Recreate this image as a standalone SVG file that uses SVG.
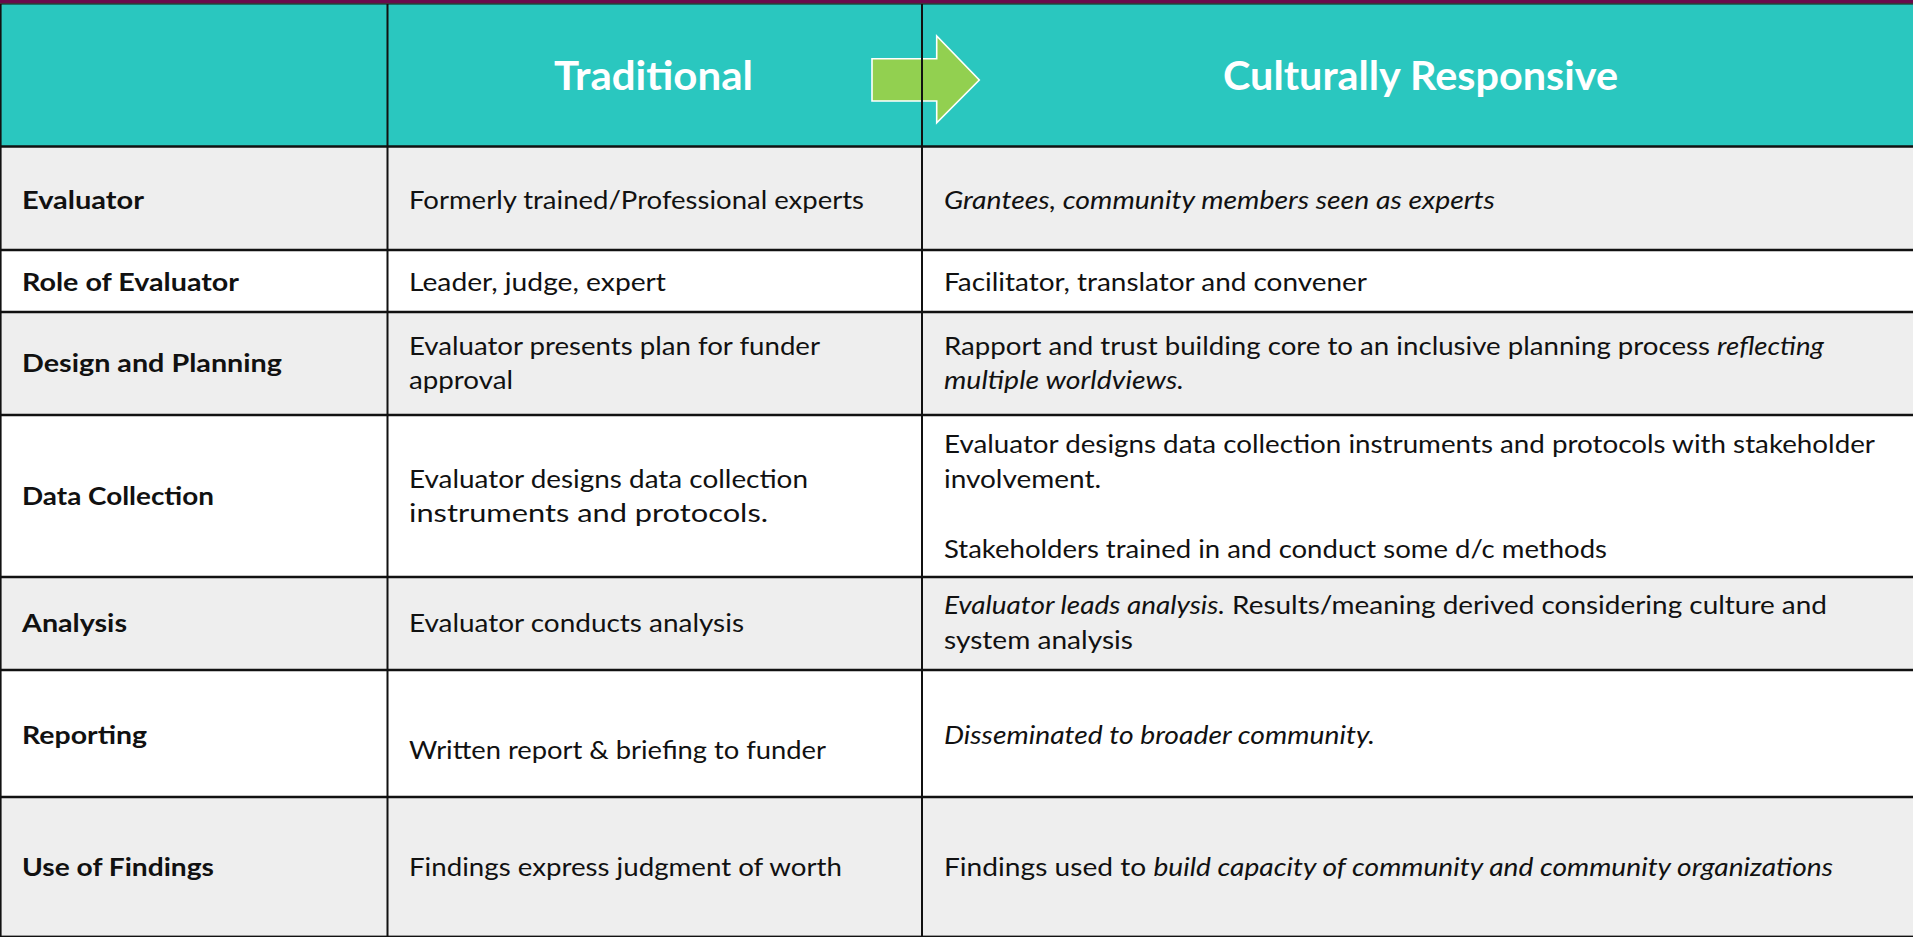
<svg xmlns="http://www.w3.org/2000/svg" width="1913" height="937" viewBox="0 0 1913 937">
<style>
.t{font-family:Lato,"Liberation Sans",sans-serif;font-size:25px;fill:#111}
.b{font-weight:bold}
.i{font-style:italic}
.h{font-family:Lato,"Liberation Sans",sans-serif;font-size:40px;font-weight:bold;fill:#fff}
.hl{stroke:#111;stroke-width:2.6}
.vl{stroke:#111;stroke-width:2}
.gray{fill:#EEEEEE}
.white{fill:#FFFFFF}
</style>
<defs/>
<g id="background">
<rect x="0" y="0" width="1913" height="937" fill="#FFFFFF"/>
<rect x="0" y="4" width="1913" height="142" fill="#2AC7BF"/>
<rect x="0" y="0" width="1913" height="3.2" fill="#6A0A4C"/>
<rect x="0" y="3.2" width="1913" height="1.3" fill="#111"/>
</g>
<g id="rows">
<rect class="gray" x="0" y="146" width="1913" height="104"/>
<rect class="white" x="0" y="250" width="1913" height="62"/>
<rect class="gray" x="0" y="312" width="1913" height="103"/>
<rect class="white" x="0" y="415" width="1913" height="162"/>
<rect class="gray" x="0" y="577" width="1913" height="93"/>
<rect class="white" x="0" y="670" width="1913" height="127"/>
<rect class="gray" x="0" y="797" width="1913" height="140"/>
</g>
<g id="arrow">
<polygon points="872,58.7 936.7,58.7 936.7,36 979.3,80 936.7,122.7 936.7,101 872,101" fill="#92D050" stroke="#FFFFFF" stroke-width="1.6"/>
</g>
<g id="connectors">
<line class="hl" x1="0" y1="146.5" x2="1913" y2="146.5"/>
<line class="hl" x1="0" y1="250" x2="1913" y2="250"/>
<line class="hl" x1="0" y1="312" x2="1913" y2="312"/>
<line class="hl" x1="0" y1="415" x2="1913" y2="415"/>
<line class="hl" x1="0" y1="577" x2="1913" y2="577"/>
<line class="hl" x1="0" y1="670" x2="1913" y2="670"/>
<line class="hl" x1="0" y1="797" x2="1913" y2="797"/>
<line x1="0" y1="935.5" x2="1913" y2="935.5" stroke="#999" stroke-width="1"/>
<line x1="0" y1="936.5" x2="1913" y2="936.5" stroke="#111" stroke-width="1"/>
<line class="vl" x1="0.6" y1="4" x2="0.6" y2="937" stroke-width="1.2"/>
<line class="vl" x1="387.5" y1="4" x2="387.5" y2="937"/>
<line class="vl" x1="922" y1="4" x2="922" y2="937"/>
</g>
<g id="header">
<text class="h" x="554" y="90" textLength="199" lengthAdjust="spacingAndGlyphs">Traditional</text>
<text class="h" x="1223" y="90" textLength="395" lengthAdjust="spacingAndGlyphs">Culturally Responsive</text>
</g>
<g id="row-evaluator">
<text class="t b" x="22" y="209" textLength="122" lengthAdjust="spacingAndGlyphs">Evaluator</text>
<text class="t" x="409" y="209" textLength="455" lengthAdjust="spacingAndGlyphs">Formerly trained/Professional experts</text>
<text class="t i" x="944" y="209" textLength="551" lengthAdjust="spacingAndGlyphs">Grantees, community members seen as experts</text>
</g>
<g id="row-role">
<text class="t b" x="22" y="291" textLength="217" lengthAdjust="spacingAndGlyphs">Role of Evaluator</text>
<text class="t" x="409" y="291" textLength="257" lengthAdjust="spacingAndGlyphs">Leader, judge, expert</text>
<text class="t" x="944" y="291" textLength="423" lengthAdjust="spacingAndGlyphs">Facilitator, translator and convener</text>
</g>
<g id="row-design">
<text class="t b" x="22" y="372" textLength="260" lengthAdjust="spacingAndGlyphs">Design and Planning</text>
<text class="t" x="409" y="355" textLength="411" lengthAdjust="spacingAndGlyphs">Evaluator presents plan for funder</text>
<text class="t" x="409" y="389" textLength="104" lengthAdjust="spacingAndGlyphs">approval</text>
<text class="t" x="944" y="355" textLength="880" lengthAdjust="spacingAndGlyphs">Rapport and trust building core to an inclusive planning process <tspan class="i">reflecting</tspan></text>
<text class="t i" x="944" y="389" textLength="240" lengthAdjust="spacingAndGlyphs">multiple worldviews.</text>
</g>
<g id="row-data">
<text class="t b" x="22" y="505" textLength="192" lengthAdjust="spacingAndGlyphs">Data Collection</text>
<text class="t" x="409" y="488" textLength="399" lengthAdjust="spacingAndGlyphs">Evaluator designs data collection</text>
<text class="t" x="409" y="522" textLength="359" lengthAdjust="spacingAndGlyphs">instruments and protocols.</text>
<text class="t" x="944" y="453" textLength="931" lengthAdjust="spacingAndGlyphs">Evaluator designs data collection instruments and protocols with stakeholder</text>
<text class="t" x="944" y="488" textLength="157" lengthAdjust="spacingAndGlyphs">involvement.</text>
<text class="t" x="944" y="558" textLength="663" lengthAdjust="spacingAndGlyphs">Stakeholders trained in and conduct some d/c methods</text>
</g>
<g id="row-analysis">
<text class="t b" x="22" y="632" textLength="105" lengthAdjust="spacingAndGlyphs">Analysis</text>
<text class="t" x="409" y="632" textLength="335" lengthAdjust="spacingAndGlyphs">Evaluator conducts analysis</text>
<text class="t" x="944" y="614" textLength="883" lengthAdjust="spacingAndGlyphs"><tspan class="i">Evaluator leads analysis.</tspan>  Results/meaning derived considering culture and</text>
<text class="t" x="944" y="649" textLength="189" lengthAdjust="spacingAndGlyphs">system analysis</text>
</g>
<g id="row-reporting">
<text class="t b" x="22" y="744" textLength="125" lengthAdjust="spacingAndGlyphs">Reporting</text>
<text class="t" x="409" y="759" textLength="417" lengthAdjust="spacingAndGlyphs">Written report &amp; briefing to funder</text>
<text class="t i" x="944" y="744" textLength="431" lengthAdjust="spacingAndGlyphs">Disseminated to broader community.</text>
</g>
<g id="row-findings">
<text class="t b" x="22" y="876" textLength="192" lengthAdjust="spacingAndGlyphs">Use of Findings</text>
<text class="t" x="409" y="876" textLength="433" lengthAdjust="spacingAndGlyphs">Findings express judgment of worth</text>
<text class="t" x="944" y="876" textLength="889" lengthAdjust="spacingAndGlyphs">Findings used to <tspan class="i">build capacity of community and community organizations</tspan></text>
</g>
</svg>
